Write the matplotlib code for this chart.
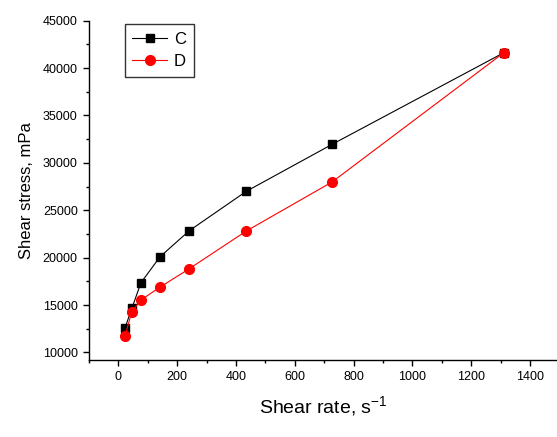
import matplotlib
matplotlib.use('Agg')
import matplotlib.pyplot as plt
from matplotlib.ticker import MultipleLocator

plt.rcParams['font.family'] = ['Liberation Sans', 'DejaVu Sans']
plt.rcParams['mathtext.default'] = 'regular'

# shear rate, 1/s
rate_c = [23, 46, 77, 142, 241, 435, 727, 1311]
rate_d = [23, 46, 77, 142, 241, 435, 727, 1311]
# shear stress, mPa
stress_c = [12600, 14640, 17350, 20090, 22830, 26990, 31950, 41620]
stress_d = [11750, 14290, 15520, 16890, 18820, 22800, 27980, 41620]

fig = plt.figure(figsize=(5.57, 4.37), dpi=100)
ax = fig.add_axes([88.9 / 557, 77.5 / 437, 1 - 88.9 / 557, 0.7753])

ax.plot(rate_c, stress_c, color='black', lw=0.8, marker='s', ms=6, label='C')
ax.plot(rate_d, stress_d, color='red', lw=0.8, marker='o', ms=7, label='D')

ax.set_xlim(-100, 1492)
ax.set_ylim(9250, 45000)
ax.xaxis.set_major_locator(MultipleLocator(200))
ax.xaxis.set_minor_locator(MultipleLocator(100))
ax.yaxis.set_major_locator(MultipleLocator(5000))
ax.yaxis.set_minor_locator(MultipleLocator(2500))

for s in ['top', 'right']:
    ax.spines[s].set_visible(False)
for s in ['left', 'bottom']:
    ax.spines[s].set_linewidth(1.0)
ax.tick_params(which='major', direction='out', length=4.5, width=1.0, labelsize=9)
ax.tick_params(which='minor', direction='out', length=2.5, width=1.0)

ax.set_xlabel(r'Shear rate, s$^{-1}$', fontsize=14, labelpad=8)
ax.set_ylabel('Shear stress, mPa', fontsize=12, labelpad=6)

leg = ax.legend(loc='upper left', bbox_to_anchor=(0.077, 0.99), borderaxespad=0,
                fontsize=12, frameon=True, fancybox=False, edgecolor='black',
                handlelength=2.1, handletextpad=0.4, borderpad=0.45,
                labelspacing=0.45)
leg.get_frame().set_linewidth(1.0)

fig.savefig('out.png', dpi=100)
